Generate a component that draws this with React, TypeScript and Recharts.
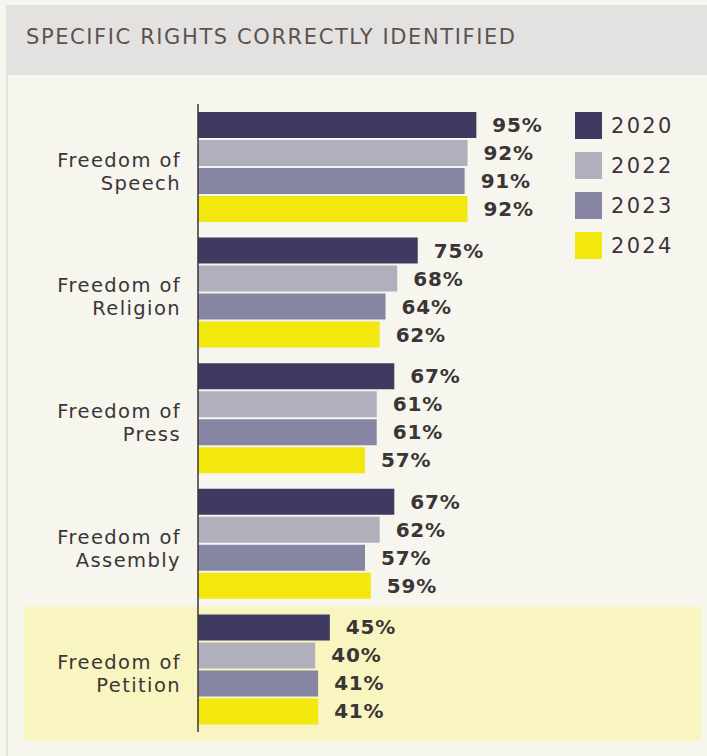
import React from 'react';
import { BarChart, Bar, XAxis, YAxis, LabelList, ReferenceArea } from 'recharts';

const categories = [
  'Freedom of Speech',
  'Freedom of Religion',
  'Freedom of Press',
  'Freedom of Assembly',
  'Freedom of Petition',
];
const years = ['2020', '2022', '2023', '2024'];
const values2020 = [95, 75, 67, 67, 45];
const values2022 = [92, 68, 61, 62, 40];
const values2023 = [91, 64, 61, 57, 41];
const values2024 = [92, 62, 57, 59, 41];
const seriesValues = [values2020, values2022, values2023, values2024];
const colors = ['#3e3a60', '#b0b0bc', '#8686a3', '#f2e80e'];
const highlighted = 'Freedom of Petition';
const title = 'SPECIFIC RIGHTS CORRECTLY IDENTIFIED';

const data = categories.map((name, i) => {
  const row: any = { name };
  years.forEach((y, k) => {
    row['y' + y] = seriesValues[k][i];
  });
  return row;
});

const TEXT = '#3b3535';
const FONT = '"DejaVu Sans", Verdana, sans-serif';

const CategoryTick = (props: any) => {
  const { x, y, payload } = props;
  const name: string = payload.value;
  const first = 'Freedom of';
  const rest = name.slice(first.length).trim();
  return (
    <text
      x={x - 17}
      y={y}
      textAnchor="end"
      fontFamily={FONT}
      fontSize={19.5}
      letterSpacing={1.4}
      fill={TEXT}
    >
      <tspan x={x - 17}>{first}</tspan>
      <tspan x={x - 17} dy={23}>{rest}</tspan>
    </text>
  );
};

const ValueLabel = (props: any) => {
  const { x, y, width, height, value } = props;
  return (
    <text
      x={Number(x) + Number(width) + 16}
      y={Number(y) + Number(height) / 2 + 7}
      fontFamily={FONT}
      fontWeight="bold"
      fontSize={20}
      letterSpacing={0.8}
      fill={TEXT}
    >
      {value}%
    </text>
  );
};

const HighlightShape = (props: any) => {
  const { y, height } = props;
  return <rect x={24} y={y} width={677} height={Number(height) + 9} fill="#f9f5c1" />;
};

export default function App() {
  return (
    <div
      style={{
        position: 'absolute',
        left: 0,
        top: 0,
        width: 707,
        height: 756,
        background: '#f6f6ef',
        overflow: 'hidden',
      }}
    >
      <div style={{ position: 'absolute', left: 6, top: 75, width: 2, height: 681, background: '#e2e2dc' }} />
      <div
        style={{
          position: 'absolute',
          left: 6,
          top: 5,
          width: 701,
          height: 70,
          background: '#e4e2e0',
        }}
      />
      <div
        style={{
          position: 'absolute',
          left: 26,
          top: 27,
          fontFamily: FONT,
          fontSize: 21,
          lineHeight: '20px',
          letterSpacing: 1.6,
          color: '#5e5250',
          whiteSpace: 'nowrap',
        }}
      >
        {title}
      </div>
      <div style={{ position: 'absolute', left: 0, top: 0 }}>
        <BarChart
          width={707}
          height={756}
          data={data}
          layout="vertical"
          margin={{ top: 104, right: 216, bottom: 24, left: 0 }}
          barGap={2}
        >
          <ReferenceArea
            y1={highlighted}
            y2={highlighted}
            ifOverflow="visible"
            shape={HighlightShape}
          />
          <XAxis type="number" domain={[0, 100]} hide />
          <YAxis
            type="category"
            dataKey="name"
            width={198}
            tickLine={false}
            tickSize={0}
            tickMargin={0}
            axisLine={{ stroke: '#3b3535', strokeWidth: 1.5 }}
            tick={<CategoryTick />}
            interval={0}
          />
          {years.map((y, k) => (
            <Bar key={y} dataKey={'y' + y} fill={colors[k]} barSize={26} isAnimationActive={false}>
              <LabelList dataKey={'y' + y} content={<ValueLabel />} />
            </Bar>
          ))}
        </BarChart>
      </div>
      <div style={{ position: 'absolute', left: 575, top: 112 }}>
        {years.map((y, k) => (
          <div key={y} style={{ position: 'relative', height: 40 }}>
            <div style={{ position: 'absolute', left: 0, top: 0, width: 27, height: 27, background: colors[k] }} />
            <div
              style={{
                position: 'absolute',
                left: 36,
                top: 2,
                fontFamily: FONT,
                fontSize: 21,
                lineHeight: '24px',
                letterSpacing: 2.3,
                color: TEXT,
              }}
            >
              {y}
            </div>
          </div>
        ))}
      </div>
    </div>
  );
}
